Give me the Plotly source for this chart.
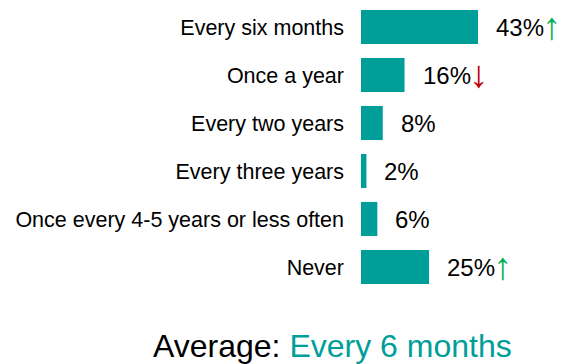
import plotly.graph_objects as go

categories = ["Every six months", "Once a year", "Every two years", "Every three years",
              "Once every 4-5 years or less often", "Never"]
values = [43, 16, 8, 2, 6, 25]
trends = ["up", "down", "", "", "", "up"]
average_label = "Average:"
average_value = "Every 6 months"

TEAL = "#009E98"
UP = "#00B050"
DOWN = "#C00000"
FONT = "Liberation Sans, Arial, sans-serif"

fig = go.Figure()
fig.add_trace(go.Bar(
    x=values, y=categories, orientation="h",
    marker=dict(color=TEAL, line=dict(width=0)),
    hoverinfo="skip",
))

for c, v, t in zip(categories, values, trends):
    fig.add_annotation(x=v, y=c, text=f"{v}%", showarrow=False,
                       xanchor="left", yanchor="middle", xshift=16,
                       font=dict(size=24, color="#000000", family=FONT))
    if t:
        glyph = "↑" if t == "up" else "↓"
        col = UP if t == "up" else DOWN
        fig.add_annotation(x=v, y=c, text=glyph, showarrow=False,
                           xanchor="left", yanchor="middle", xshift=62, yshift=1,
                           font=dict(size=38, color=col, family=FONT))

fig.add_annotation(xref="paper", yref="paper", x=-0.1425, y=-0.19, xanchor="center", yanchor="middle",
                   text=f"{average_label} <span style='color:{TEAL}'>{average_value}</span>",
                   showarrow=False, font=dict(size=32, color="#000000", family=FONT))

fig.update_layout(
    width=566, height=364,
    margin=dict(l=361, r=5, t=3, b=73, autoexpand=False),
    plot_bgcolor="white", paper_bgcolor="white",
    bargap=0.29,
    showlegend=False,
    hovermode=False,
    font=dict(family=FONT),
    xaxis=dict(range=[0, 73.5], visible=False, fixedrange=True, automargin=False),
    yaxis=dict(categoryorder="array", categoryarray=categories, autorange="reversed",
               showgrid=False, zeroline=False, showline=False, ticks="",
               ticklabelstandoff=16, automargin=False, fixedrange=True,
               tickfont=dict(size=21.5, color="#000000", family=FONT)),
)

fig.write_html("out.html", config={"displayModeBar": False, "staticPlot": True},
               post_script="document.body.style.margin='0px';document.body.style.overflow='hidden';")
